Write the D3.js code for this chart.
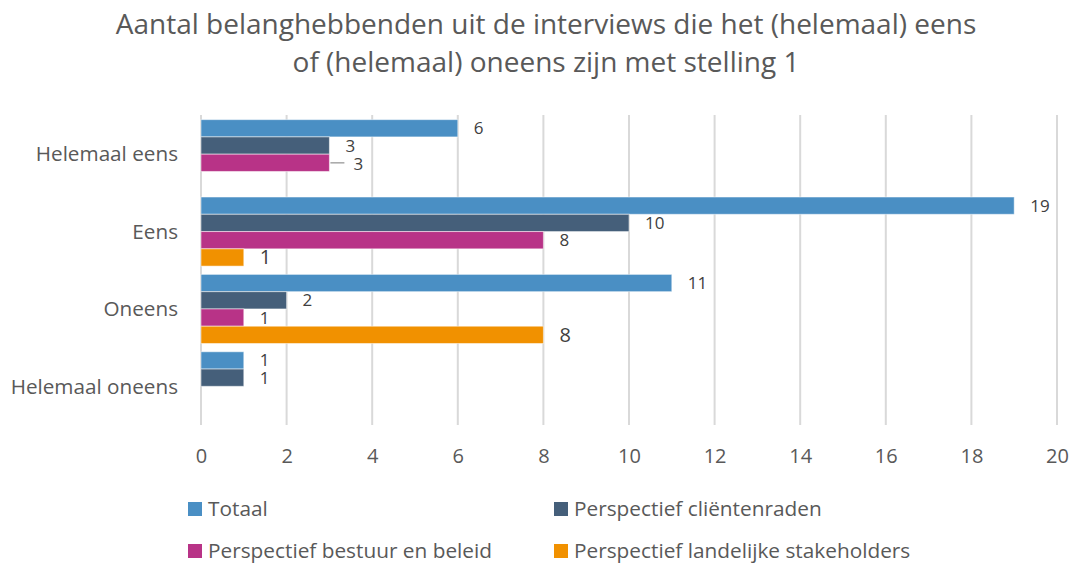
<!DOCTYPE html>
<meta charset="utf-8">
<style>
	body{ margin:0; background:#fff; }
	text{ font-family:"Open Sans", sans-serif; fill:#595959; }
	.grid line{ stroke:#d9d9d9; stroke-width:2; }
</style>
<body>
<svg width="1072" height="564" id="chart"></svg>
<script src="https://cdn.jsdelivr.net/npm/d3@7"></script>
<script>
	var categories = ["Helemaal eens", "Eens", "Oneens", "Helemaal oneens"];
	var seriesNames = ["Totaal", "Perspectief cliëntenraden", "Perspectief bestuur en beleid", "Perspectief landelijke stakeholders"];
	var seriesColors = ["#4a8fc4", "#455f7a", "#b83387", "#f19100"];
	var totaal = [6, 19, 11, 1];
	var clientenraden = [3, 10, 2, 1];
	var bestuur = [3, 8, 1, 0];
	var landelijk = [0, 1, 8, 0];
	var xTicks = [0, 2, 4, 6, 8, 10, 12, 14, 16, 18, 20];
	var titleLines = ["Aantal belanghebbenden uit de interviews die het (helemaal) eens",
		"of (helemaal) oneens zijn met stelling 1"];

	var values = [totaal, clientenraden, bestuur, landelijk];
	var svg = d3.select("#chart");

	var x = d3.scaleLinear().domain([0, 20]).range([201, 1057]);
	var y = d3.scaleBand().domain(categories).range([115.5, 425]).paddingInner(0.107).paddingOuter(0.0535);
	var ys = d3.scaleBand().domain(seriesNames).range([0, y.bandwidth()]);

	/* title */
	svg.append("g").selectAll("text").data(titleLines).enter().append("text")
		.attr("x", 546).attr("y", function(d, i){ return 34 + i*38; })
		.attr("text-anchor", "middle").style("font-size", "28px").text(function(d){ return d; });

	/* grid */
	svg.append("g").attr("class", "grid").selectAll("line").data(xTicks).enter().append("line")
		.attr("x1", function(d){ return x(d); }).attr("x2", function(d){ return x(d); })
		.attr("y1", 115).attr("y2", 425);

	/* x tick labels */
	svg.append("g").attr("transform", "translate(0,425)")
		.call(d3.axisBottom(x).tickValues(xTicks).tickSize(0).tickPadding(24))
		.call(function(g){ g.select(".domain").remove(); })
		.selectAll("text").style("font-size", "20px").style("fill", "#595959").style("font-family", "Open Sans");

	/* y labels */
	svg.append("g").selectAll("text").data(categories).enter().append("text")
		.attr("x", 178).attr("y", function(d){ return y(d) + y.bandwidth()/2; })
		.attr("dy", "0.35em").attr("text-anchor", "end").style("font-size", "20.7px").text(function(d){ return d; });

	/* bars */
	var rows = [];
	seriesNames.forEach(function(s, si){
		categories.forEach(function(c, ci){
			rows.push({s:s, si:si, c:c, ci:ci, v:values[si][ci]});
		});
	});
	var shown = rows.filter(function(d){ return d.v > 0; });

	svg.append("g").selectAll("rect").data(shown).enter().append("rect")
		.attr("x", x(0)).attr("y", function(d){ return y(d.c) + ys(d.s); })
		.attr("width", function(d){ return x(d.v) - x(0); }).attr("height", ys.bandwidth())
		.attr("fill", function(d){ return seriesColors[d.si]; })
		.attr("stroke", "#fff").attr("stroke-opacity", 0.5).attr("stroke-width", 1);

	/* data labels; landelijk labels are larger, bestuur "3" nudged with leader */
	svg.append("g").selectAll("text").data(shown).enter().append("text")
		.attr("x", function(d){ return x(d.v) + 16 + (d.si == 2 && d.ci == 0 ? 8 : 0); })
		.attr("y", function(d){ return y(d.c) + ys(d.s) + ys.bandwidth()/2 + (d.si == 2 && d.ci == 0 ? 1 : 0); })
		.attr("dy", "0.35em")
		.style("font-size", function(d){ return d.si == 3 ? "20px" : "17px"; })
		.style("fill", "#404040")
		.text(function(d){ return d.v; });
	svg.append("line")
		.attr("x1", x(bestuur[0]) + 1).attr("x2", x(bestuur[0]) + 15)
		.attr("y1", y(categories[0]) + ys(seriesNames[2]) + ys.bandwidth()/2)
		.attr("y2", y(categories[0]) + ys(seriesNames[2]) + ys.bandwidth()/2)
		.attr("stroke", "#a6a6a6").attr("stroke-width", 1.5);

	/* legend */
	var legendPos = [[188, 509], [554, 509], [188, 551], [554, 551]];
	var legend = svg.append("g").selectAll("g").data(seriesNames).enter().append("g")
		.attr("transform", function(d, i){ return "translate(" + legendPos[i][0] + "," + legendPos[i][1] + ")"; });
	legend.append("rect").attr("x", 0).attr("y", -7).attr("width", 14).attr("height", 14)
		.attr("fill", function(d, i){ return seriesColors[i]; });
	legend.append("text").attr("x", 20).attr("y", 7).style("font-size", "20.8px").text(function(d){ return d; });
</script>
</body>
